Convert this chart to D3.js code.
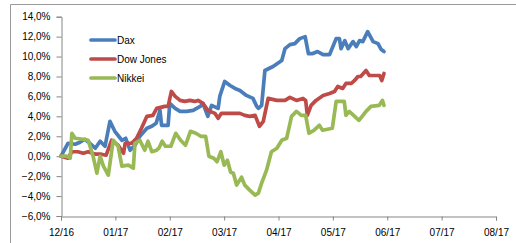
<!DOCTYPE html>
<html>
<head>
<meta charset="utf-8">
<script src="https://cdn.jsdelivr.net/npm/d3@7"></script>
<style>
  body { margin: 0; background: #fff; }
  text { font-family: "Liberation Sans", Arial, sans-serif; font-size: 10px; fill: #000; }
</style>
</head>
<body>
<div id="container"></div>
<script>
//month tick labels and value ticks
const monthLabels = ["12/16", "01/17", "02/17", "03/17", "04/17", "05/17", "06/17", "07/17", "08/17"]
const yTicks = [-6, -4, -2, 0, 2, 4, 6, 8, 10, 12, 14]

//series as [months since 12/16, % change]
const dax = [[0,0],[0.13,1.3],[0.26,1.2],[0.35,1.4],[0.44,1.7],[0.53,1.3],[0.63,0.8],[0.72,1.5],[0.81,1.0],[0.90,3.5],[0.99,2.5],[1.12,1.6],[1.19,1.8],[1.27,0.6],[1.36,1.1],[1.45,2.0],[1.58,2.8],[1.67,3.0],[1.75,3.3],[1.82,4.6],[1.85,3.1],[1.97,3.1],[2.00,5.3],[2.10,4.8],[2.19,4.5],[2.31,4.5],[2.43,4.6],[2.56,5.0],[2.61,5.3],[2.70,4.0],[2.77,5.1],[2.89,4.8],[2.92,6.0],[3.01,7.5],[3.11,7.1],[3.20,6.8],[3.29,6.6],[3.41,6.1],[3.53,5.8],[3.60,5.0],[3.63,4.8],[3.69,5.1],[3.75,8.6],[3.90,9.0],[4.06,9.6],[4.12,10.8],[4.21,11.2],[4.30,11.3],[4.39,11.8],[4.49,12.0],[4.55,10.3],[4.63,10.3],[4.72,10.5],[4.82,10.2],[4.94,10.2],[5.06,11.8],[5.12,11.8],[5.15,10.8],[5.22,11.6],[5.28,10.8],[5.37,11.5],[5.43,11.0],[5.49,11.6],[5.55,11.5],[5.64,12.5],[5.74,11.5],[5.83,11.3],[5.89,10.7],[5.94,10.5]]
const dowJones = [[0,0],[0.13,-0.2],[0.20,0.45],[0.31,0.45],[0.41,0.3],[0.50,0.45],[0.63,0.2],[0.74,0.2],[0.83,0.1],[0.93,1.6],[1.05,1.1],[1.15,0.3],[1.18,1.3],[1.30,1.3],[1.39,1.8],[1.48,2.8],[1.58,4.0],[1.69,4.1],[1.76,4.8],[1.91,5.0],[1.97,5.0],[2.03,6.5],[2.10,6.0],[2.19,5.6],[2.28,5.5],[2.37,5.6],[2.46,5.5],[2.52,5.6],[2.61,5.3],[2.70,4.6],[2.83,4.3],[2.89,3.8],[2.95,4.3],[3.11,4.3],[3.29,4.3],[3.38,4.1],[3.47,4.0],[3.57,4.1],[3.65,3.0],[3.72,3.5],[3.81,5.8],[3.97,5.6],[4.12,5.6],[4.21,5.9],[4.33,5.6],[4.45,5.8],[4.50,5.6],[4.53,4.1],[4.60,5.1],[4.69,5.6],[4.82,6.1],[4.94,6.3],[5.03,6.5],[5.09,7.0],[5.18,6.8],[5.24,7.3],[5.34,7.3],[5.40,7.6],[5.46,8.0],[5.51,8.0],[5.61,8.6],[5.67,8.1],[5.77,8.1],[5.86,8.1],[5.90,7.6],[5.94,8.3]]
const nikkei = [[0,0],[0.10,0],[0.17,-0.2],[0.20,2.3],[0.26,1.8],[0.41,1.7],[0.50,1.6],[0.59,0],[0.66,-1.7],[0.72,0],[0.78,-1.0],[0.87,-1.9],[0.96,1.6],[1.05,1.0],[1.12,-1.0],[1.24,-0.9],[1.33,-1.2],[1.36,1.3],[1.45,1.6],[1.54,0.6],[1.60,1.5],[1.67,0.45],[1.76,0.6],[1.80,0.8],[1.86,1.5],[1.92,1.0],[2.02,1.0],[2.11,2.3],[2.20,1.6],[2.29,1.1],[2.38,2.5],[2.48,2.3],[2.57,2.0],[2.66,2.0],[2.72,0],[2.81,-0.2],[2.87,-0.55],[2.94,0.45],[3.00,-0.9],[3.06,-0.4],[3.12,-1.6],[3.17,-1.7],[3.23,-2.9],[3.32,-2.1],[3.38,-2.9],[3.47,-3.4],[3.57,-3.9],[3.63,-3.7],[3.69,-2.7],[3.78,-1.4],[3.87,0.45],[3.97,0.8],[4.06,1.6],[4.15,1.8],[4.24,4.0],[4.33,4.5],[4.42,4.1],[4.50,4.1],[4.56,2.3],[4.65,2.6],[4.75,3.1],[4.81,2.6],[4.99,2.8],[5.06,5.5],[5.21,5.5],[5.24,4.1],[5.30,4.5],[5.48,3.6],[5.61,4.5],[5.70,5.0],[5.85,5.1],[5.91,5.6],[5.94,5.1]]

const seriesNames = ["Dax", "Dow Jones", "Nikkei"]
const seriesColors = ["#4a7ebb", "#be4b48", "#98b954"]
const seriesData = [dax, dowJones, nikkei]

const width = 516
const height = 243

let svg = d3.select("#container")
    .append("svg")
    .attr("width", width)
    .attr("height", height)

//outer frame
svg.append("path")
    .attr("d", "M10.5,243 V4.5 H516")
    .attr("fill", "none")
    .attr("stroke", "#9a9a9a")
    .attr("stroke-width", 1)

let x = d3.scaleLinear().domain([0, 8]).range([61, 496])
let y = d3.scaleLinear().domain([-6, 14]).range([216, 16.7])

//y axis
let yAxis = svg.append("g")
    .attr("transform", "translate(61.5,0)")
    .call(d3.axisLeft(y)
        .tickValues(yTicks)
        .tickSize(5)
        .tickPadding(6)
        .tickFormat(d => d3.format(".1f")(d).replace(".", ",") + "%"))
yAxis.selectAll("text").style("font-size", "10px")

//x axis
let xAxis = svg.append("g")
    .attr("transform", "translate(0,216.5)")
    .call(d3.axisBottom(x)
        .tickValues(d3.range(monthLabels.length))
        .tickSize(4)
        .tickPadding(8)
        .tickFormat(i => monthLabels[i]))
xAxis.selectAll("text").style("font-size", "10px")

svg.selectAll(".domain, .tick line")
    .attr("stroke", "#868686")

//series lines
let line = d3.line()
    .x(d => x(d[0]))
    .y(d => y(d[1]))

svg.append("g")
    .selectAll("path")
    .data(seriesData)
    .enter().append("path")
    .attr("d", line)
    .attr("fill", "none")
    .attr("stroke", (d, i) => seriesColors[i])
    .attr("stroke-width", 3.7)
    .attr("stroke-linejoin", "round")
    .attr("stroke-linecap", "round")

//legend
let legend = svg.append("g")
    .selectAll("g")
    .data(seriesNames)
    .enter().append("g")
    .attr("transform", (d, i) => "translate(91," + (40 + i * 19) + ")")

legend.append("line")
    .attr("x1", 0)
    .attr("x2", 24)
    .attr("stroke", (d, i) => seriesColors[i])
    .attr("stroke-width", 3.7)
    .attr("stroke-linecap", "round")

legend.append("text")
    .attr("x", 26)
    .attr("dy", "0.35em")
    .text(d => d)
</script>
</body>
</html>
